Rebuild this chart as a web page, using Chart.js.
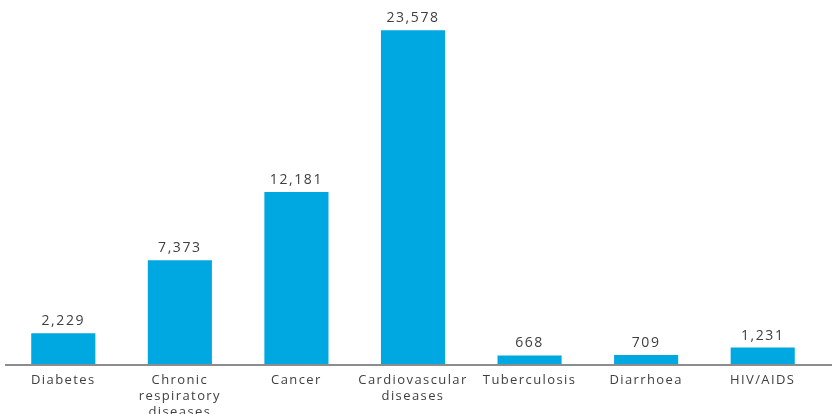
<!DOCTYPE html>
<html lang="en">
<head>
    <meta charset="UTF-8">
    <title>Deaths by cause</title>
    <style>
        body {
            margin: 0;
            background: #fff;
        }

        #chart-container {
            width: 839px;
            height: 414px;
            overflow: hidden;
        }
    </style>
</head>
<body>
    <div id="chart-container">
        <canvas id="deaths-chart"></canvas>
    </div>

    <script src="https://cdn.jsdelivr.net/npm/chart.js"></script>
    <script>
        const categories = [
            ['Diabetes'],
            ['Chronic', 'respiratory', 'diseases'],
            ['Cancer'],
            ['Cardiovascular', 'diseases'],
            ['Tuberculosis'],
            ['Diarrhoea'],
            ['HIV/AIDS']
        ];
        const deaths = [2229, 7373, 12181, 23578, 668, 709, 1231];
        const yMax = 25000;

        const barColor = '#00a8e1';
        const textColor = '#404040';

        // value labels above each bar + a baseline that runs a bit past the last bar
        const barExtras = {
            id: 'barExtras',
            beforeDraw(chart) {
                // the source text is set quite wide
                chart.ctx.letterSpacing = '1.4px';
            },
            afterDatasetsDraw(chart) {
                const ctx = chart.ctx;
                const area = chart.chartArea;

                ctx.save();
                ctx.strokeStyle = '#8c8c8c';
                ctx.lineWidth = 2;
                ctx.beginPath();
                ctx.moveTo(5, area.bottom);
                ctx.lineTo(832, area.bottom);
                ctx.stroke();

                ctx.fillStyle = textColor;
                ctx.font = '14px "Open Sans"';
                ctx.letterSpacing = '1.6px';
                ctx.textAlign = 'center';
                ctx.textBaseline = 'bottom';
                chart.getDatasetMeta(0).data.forEach((bar, i) => {
                    ctx.fillText(deaths[i].toLocaleString('en-US'), bar.x, bar.y - 5);
                });
                ctx.restore();
            }
        };

        const ctx = document.getElementById('deaths-chart').getContext('2d');
        new Chart(ctx, {
            type: 'bar',
            data: {
                labels: categories,
                datasets: [{
                    data: deaths,
                    backgroundColor: barColor,
                    barPercentage: 0.55,
                    categoryPercentage: 1
                }]
            },
            options: {
                responsive: true,
                maintainAspectRatio: false,
                animation: false,
                layout: {
                    padding: { left: 5, right: 18, top: 10, bottom: 0 }
                },
                plugins: {
                    legend: { display: false },
                    tooltip: { enabled: false }
                },
                scales: {
                    x: {
                        grid: { display: false, drawTicks: false },
                        border: { display: false },
                        ticks: {
                            color: textColor,
                            padding: 7,
                            autoSkip: false,
                            maxRotation: 0,
                            font: { family: 'Open Sans', size: 13, lineHeight: '16px' }
                        },
                        afterFit(scale) {
                            scale.height = 49;
                        }
                    },
                    y: {
                        display: false,
                        min: 0,
                        max: yMax
                    }
                }
            },
            plugins: [barExtras]
        });
    </script>
</body>
</html>
